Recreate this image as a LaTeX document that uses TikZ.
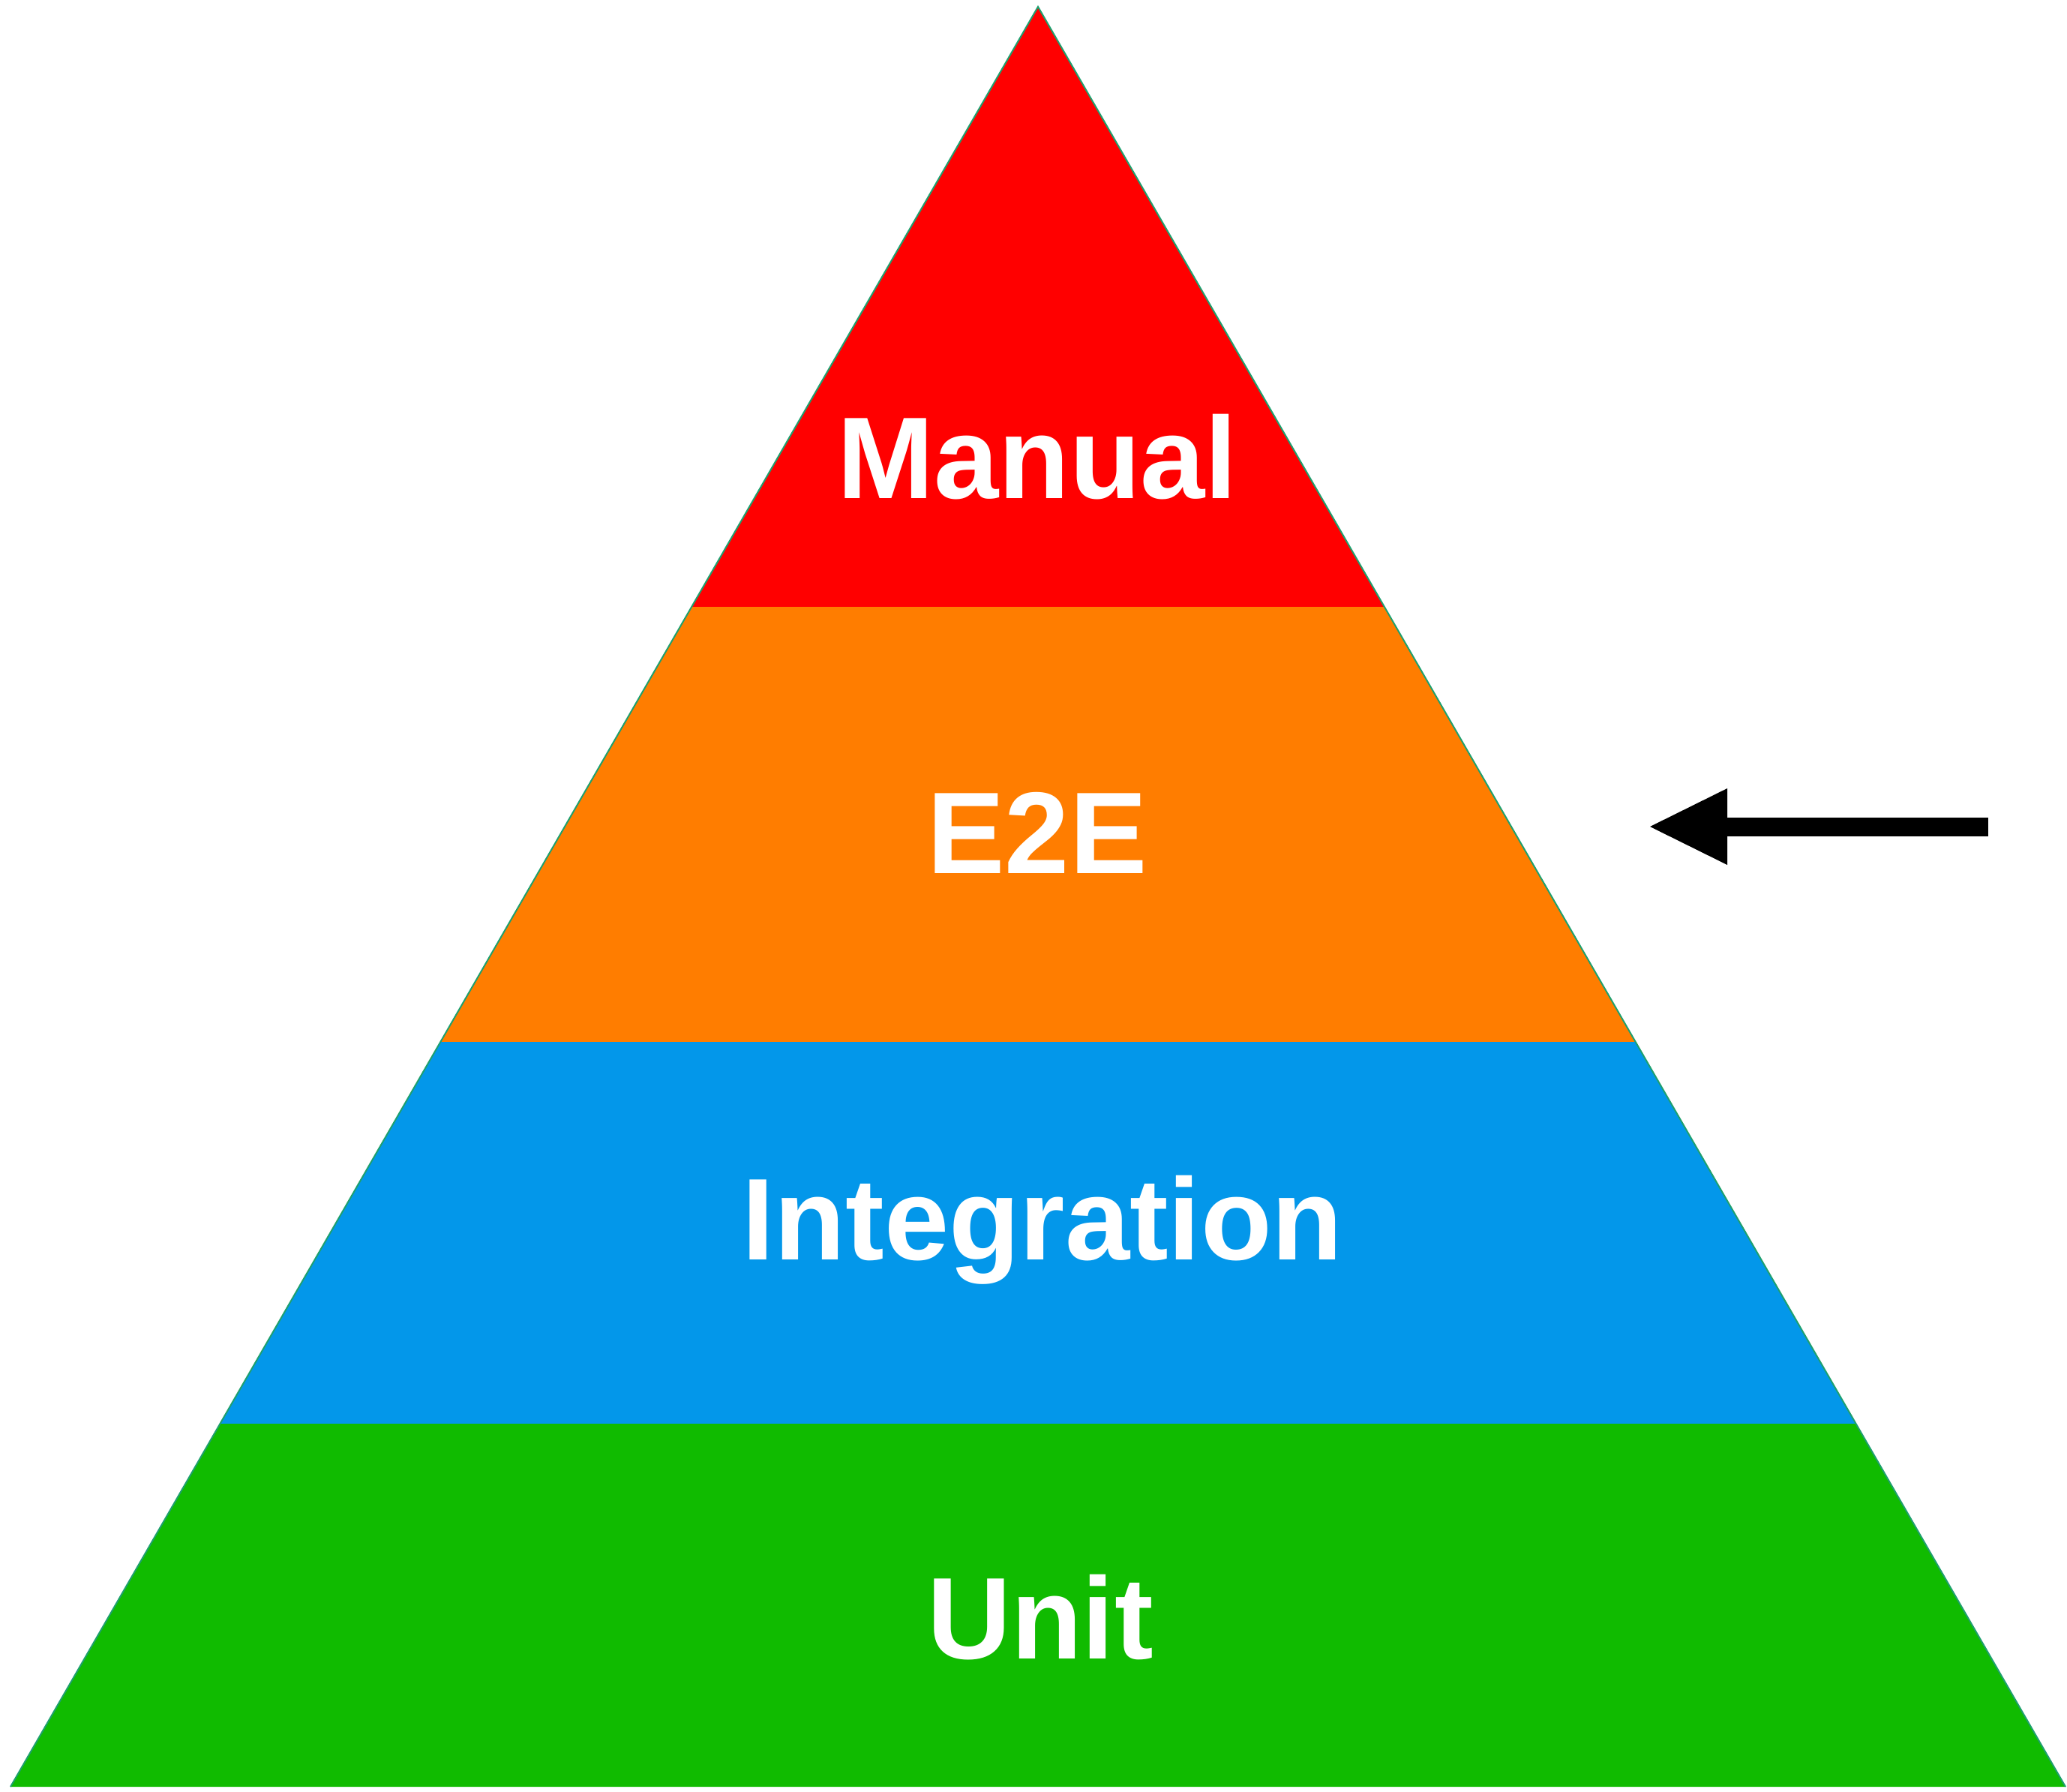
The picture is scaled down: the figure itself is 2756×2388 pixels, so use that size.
\documentclass[tikz,border=0pt]{standalone}
\usepackage{fontspec}
\setmainfont{Liberation Sans}
\usetikzlibrary{arrows.meta}
\definecolor{cred}{RGB}{255,0,0}
\definecolor{corange}{RGB}{255,125,0}
\definecolor{cblue}{RGB}{3,151,234}
\definecolor{cgreen}{RGB}{16,187,0}
\definecolor{cedge}{RGB}{30,160,110}
\tikzset{
  lbl/.style={text=white, inner sep=0pt, anchor=base, font=\fontsize{155}{156}\selectfont\bfseries}
}
\begin{document}
\begin{tikzpicture}[x=1pt,y=-1pt]
\useasboundingbox (0,0) rectangle (2756,2388);
\coordinate (apex) at (1384,9);
\coordinate (bl) at (14,2382);
\coordinate (br) at (2754,2382);
\begin{scope}
  \clip (apex) -- (bl) -- (br) -- cycle;
  \fill[cred] (0,0) rectangle (2756,809);
  \fill[corange] (0,809) rectangle (2756,1389);
  \fill[cblue] (0,1389) rectangle (2756,1898);
  \fill[cgreen] (0,1898) rectangle (2756,2388);
\end{scope}
\draw[cedge, line width=2pt, line join=miter] (bl) -- (apex) -- (br);
\node[lbl] (manual) at (1383,664) {Manual};
\node[lbl] (e2e) at (1383,1164) {E2E};
\node[lbl] (integration) at (1390,1679) {Integration};
\node[lbl] (unit) at (1387,2211) {Unit};
\coordinate (tail) at (2651,1102);
\coordinate (tip) at (2200,1102);
\draw[line width=25pt, -{Triangle[length=103pt,width=102pt,line width=0pt]}] (tail) -- (tip);
\end{tikzpicture}
\end{document}
